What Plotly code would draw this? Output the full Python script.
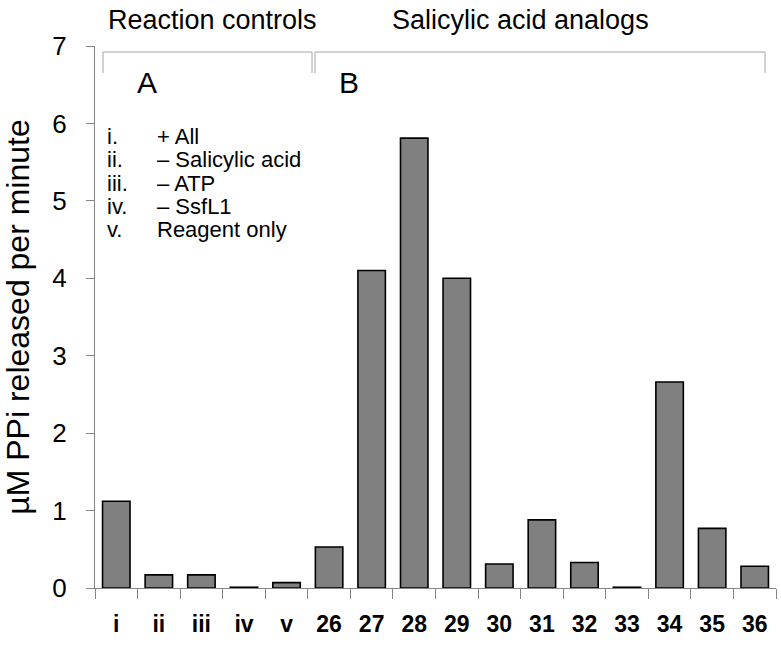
import plotly.graph_objects as go

categories = ["i", "ii", "iii", "iv", "v", "26", "27", "28", "29", "30", "31", "32", "33", "34", "35", "36"]
values = [1.12, 0.17, 0.17, 0.01, 0.07, 0.53, 4.10, 5.81, 4.00, 0.31, 0.88, 0.33, 0.01, 2.66, 0.77, 0.28]

legend_numerals = ["i.", "ii.", "iii.", "iv.", "v."]
legend_texts = ["+ All", "\u2013 Salicylic acid", "\u2013 ATP", "\u2013 SsfL1", "Reagent only"]

FONT = "Liberation Sans, Arial, sans-serif"
W, H = 781, 645
ML, MR, MT, MB = 95, 5, 46, 57
PW, PH = W - ML - MR, H - MT - MB

def px(xp):
    return (xp - ML) / PW

def py(yp):
    return (H - MB - yp) / PH

fig = go.Figure(go.Bar(
    x=categories, y=values,
    marker=dict(color="#808080", line=dict(color="#000000", width=1.6)),
    width=0.645,
))

fig.update_layout(
    width=W, height=H,
    margin=dict(l=ML, r=MR, t=MT, b=MB, autoexpand=False),
    paper_bgcolor="white", plot_bgcolor="white",
    showlegend=False,
    font=dict(family=FONT, color="black"),
)

fig.update_xaxes(
    type="category", automargin=False,
    showline=True, linecolor="#868686", linewidth=1,
    ticks="outside", tickson="boundaries", ticklen=10, tickcolor="#868686",
    tickfont=dict(family=FONT, size=23, color="black", weight="bold"),
    ticklabelstandoff=15,
    showgrid=False, zeroline=False,
    range=[-0.5, len(categories) - 0.5],
)
fig.update_yaxes(
    range=[0, 7], dtick=1, automargin=False,
    showline=True, linecolor="#868686", linewidth=1,
    ticks="outside", ticklen=8, tickcolor="#868686",
    tickfont=dict(family=FONT, size=26, color="black"),
    ticklabelstandoff=14,
    showgrid=False, zeroline=False,
    title=dict(text="\u00b5M PPi released per minute", font=dict(family=FONT, size=32, color="black"), standoff=14),
)

shapes = []
line = dict(color="#a6a6a6", width=1)
shapes.append(dict(type="path", xref="paper", yref="paper",
                   path=f"M {px(103)},{py(73)} L {px(103)},{py(52)} L {px(312)},{py(52)} L {px(312)},{py(73)}",
                   line=line))
shapes.append(dict(type="path", xref="paper", yref="paper",
                   path=f"M {px(315)},{py(73)} L {px(315)},{py(52)} L {px(765)},{py(52)} L {px(765)},{py(73)}",
                   line=line))
fig.update_layout(shapes=shapes)

ann = []
ann.append(dict(text="Reaction controls", x=px(212), y=py(20), xref="paper", yref="paper",
                showarrow=False, font=dict(family=FONT, size=27, color="black"), xanchor="center", yanchor="middle"))
ann.append(dict(text="Salicylic acid analogs", x=px(520), y=py(20), xref="paper", yref="paper",
                showarrow=False, font=dict(family=FONT, size=27, color="black"), xanchor="center", yanchor="middle"))
ann.append(dict(text="A", x=px(147), y=py(83), xref="paper", yref="paper",
                showarrow=False, font=dict(family=FONT, size=30, color="black"), xanchor="center", yanchor="middle"))
ann.append(dict(text="B", x=px(349), y=py(83), xref="paper", yref="paper",
                showarrow=False, font=dict(family=FONT, size=30, color="black"), xanchor="center", yanchor="middle"))
row_y = [136, 159.5, 183, 206.5, 230]
for num, txt, yy in zip(legend_numerals, legend_texts, row_y):
    ann.append(dict(text=num, x=px(105), y=py(yy), xref="paper", yref="paper", showarrow=False,
                    font=dict(family=FONT, size=22, color="black"), xanchor="left", yanchor="middle"))
    ann.append(dict(text=txt, x=px(155), y=py(yy), xref="paper", yref="paper", showarrow=False,
                    font=dict(family=FONT, size=22, color="black"), xanchor="left", yanchor="middle"))
fig.update_layout(annotations=ann)

fig.write_html("out.html", config={"displayModeBar": False},
               post_script="document.body.style.margin='0px';")
